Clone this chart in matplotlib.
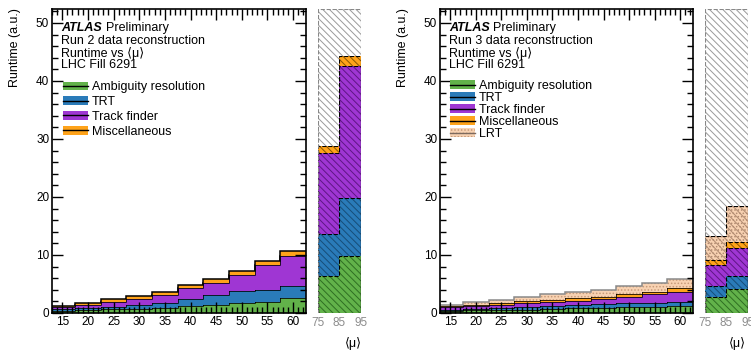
import numpy as np
import matplotlib.pyplot as plt
from matplotlib.patches import Patch
from matplotlib.lines import Line2D
from matplotlib.ticker import MultipleLocator

plt.rcParams['font.family'] = ['Liberation Sans', 'DejaVu Sans']
plt.rcParams['hatch.linewidth'] = 0.7

# bins in <mu>
mu_edges = np.arange(12.5, 63, 5)
side_edges = np.array([75, 85, 95])

labels = ["Ambiguity resolution", "TRT", "Track finder", "Miscellaneous", "LRT"]

# Run 2 (left), per-component runtime
run2_ambi = [0.4, 0.5, 0.65, 0.75, 0.9, 1.15, 1.4, 1.65, 1.95, 2.5]
run2_trt = [0.25, 0.3, 0.4, 0.6, 0.8, 1.3, 1.7, 2.15, 2.05, 2.15]
run2_track = [0.35, 0.55, 0.8, 1.05, 1.4, 1.9, 2.0, 2.75, 4.2, 5.15]
run2_misc = [0.25, 0.4, 0.5, 0.6, 0.55, 0.55, 0.7, 0.75, 0.75, 0.95]
# extrapolation, <mu> 75-95
run2_side_ambi = [6.3, 9.8]
run2_side_trt = [7.4, 10.0]
run2_side_track = [13.8, 22.8]
run2_side_misc = [1.3, 1.7]

# Run 3 (right)
run3_ambi = [0.4, 0.45, 0.5, 0.6, 0.7, 0.8, 0.9, 1.0, 1.1, 1.2]
run3_trt = [0.2, 0.3, 0.4, 0.5, 0.55, 0.6, 0.65, 0.65, 0.7, 0.75]
run3_track = [0.35, 0.45, 0.55, 0.65, 0.7, 0.75, 0.85, 1.15, 1.4, 1.75]
run3_misc = [0.2, 0.25, 0.25, 0.3, 0.35, 0.4, 0.4, 0.4, 0.5, 0.55]
run3_lrt = [0.3, 0.4, 0.55, 0.75, 0.9, 1.0, 1.15, 1.45, 1.5, 1.65]
run3_side_ambi = [2.8, 4.1]
run3_side_trt = [1.85, 2.2]
run3_side_track = [3.65, 4.85]
run3_side_misc = [0.8, 1.15]
run3_side_lrt = [4.1, 6.15]

colors = ['#62b24a', '#2a7bb9', '#9f36d3', '#ffa31a', '#f8d2b2']
hatch_cols = ['#2f6e22', '#164d78', '#5e1684', '#8a5500', '#c79a78']
YMAX = 52.4
DIAG = '\\' * 5

fig = plt.figure(figsize=(7.51, 3.51), dpi=100)


def setup_main(ax):
    ax.set_xlim(13, 62.5)
    ax.set_ylim(0, YMAX)
    ax.xaxis.set_major_locator(MultipleLocator(5))
    ax.xaxis.set_minor_locator(MultipleLocator(1))
    ax.yaxis.set_major_locator(MultipleLocator(10))
    ax.yaxis.set_minor_locator(MultipleLocator(2))
    ax.tick_params(which='both', direction='in', top=True, right=True,
                   labelsize=8.5, pad=2, width=1)
    ax.tick_params(which='major', length=8)
    ax.tick_params(which='minor', length=4)
    for s in ax.spines.values():
        s.set_linewidth(1.2)


def draw_stack(ax, layers, cols, outline_cols):
    bottom = np.zeros(len(mu_edges) - 1)
    for vals, c, oc in zip(layers, cols, outline_cols):
        top = bottom + np.array(vals)
        ax.stairs(top, mu_edges, baseline=bottom, fill=True, color=c)
        if c == colors[4]:
            ax.stairs(top, mu_edges, baseline=bottom, fill=True, facecolor='none',
                      edgecolor=hatch_cols[4], hatch='.....', linewidth=0)
        ax.stairs(top, mu_edges, baseline=None, color=oc, linewidth=1.1)
        bottom = top


def draw_side(ax, layers, cols, hcols):
    bottom = np.zeros(2)
    for vals, c, hc in zip(layers, cols, hcols):
        top = bottom + np.array(vals)
        ax.stairs(top, side_edges, baseline=bottom, fill=True, color=c)
        if c == colors[4]:
            ax.stairs(top, side_edges, baseline=bottom, fill=True, facecolor='none',
                      edgecolor=hc, hatch='.....', linewidth=0)
        ax.stairs(top, side_edges, baseline=bottom, fill=True, facecolor='none',
                  edgecolor=hc, hatch=DIAG, linewidth=0)
        ax.stairs(top, side_edges, baseline=0, color='black', linestyle='--',
                  linewidth=0.8)
        bottom = top
    full = np.full(2, YMAX)
    ax.stairs(full, side_edges, baseline=bottom, fill=True, facecolor='white',
              edgecolor='#9a9a9a', hatch=DIAG, linewidth=0)
    ax.stairs(full, side_edges, baseline=0, color='#888888', linestyle='--',
              linewidth=0.8)
    ax.set_xlim(75, 95)
    ax.set_ylim(0, YMAX)
    ax.set_xticks([75, 85, 95])
    ax.set_yticks([])
    ax.tick_params(axis='x', length=0, pad=3, labelsize=8.5, labelcolor='#8c8c8c')
    for s in ax.spines.values():
        s.set_visible(False)


def header(ax, run, xpre):
    ys = [0.936, 0.896, 0.855, 0.815]
    ax.text(0.035, ys[0], 'ATLAS', weight='bold', style='italic', fontsize=9,
            va='center', transform=ax.transAxes)
    ax.text(xpre, ys[0], 'Preliminary', fontsize=9, va='center', transform=ax.transAxes)
    ax.text(0.035, ys[1], 'Run %d data reconstruction' % run, fontsize=9,
            va='center', transform=ax.transAxes)
    ax.text(0.035, ys[2], 'Runtime vs \u27e8\u03bc\u27e9', fontsize=9,
            va='center', transform=ax.transAxes)
    ax.text(0.035, ys[3], 'LHC Fill 6291', fontsize=9, va='center',
            transform=ax.transAxes)


# ---- left: Run 2
ax1 = fig.add_axes([0.0692, 0.1083, 0.3382, 0.866])
side1 = fig.add_axes([0.4234, 0.1083, 0.0573, 0.866])
setup_main(ax1)
draw_stack(ax1, [run2_ambi, run2_trt, run2_track, run2_misc], colors[:4], ['black'] * 4)
draw_side(side1, [run2_side_ambi, run2_side_trt, run2_side_track, run2_side_misc],
          colors[:4], hatch_cols[:4])
header(ax1, 2, 0.212)
h1 = [(Patch(facecolor=c), Line2D([], [], color='black', lw=1)) for c in colors[:4]]
ax1.legend(h1, labels[:4], loc='upper left', bbox_to_anchor=(0.043, 0.762),
           frameon=False, fontsize=9, handlelength=2.0, handleheight=0.7,
           handletextpad=0.3, borderpad=0, borderaxespad=0, labelspacing=0.22)

# ---- right: Run 3
ax2 = fig.add_axes([0.5859, 0.1083, 0.3369, 0.866])
side2 = fig.add_axes([0.9387, 0.1083, 0.0573, 0.866])
setup_main(ax2)
draw_stack(ax2, [run3_ambi, run3_trt, run3_track, run3_misc, run3_lrt], colors,
           ['black'] * 4 + ['#8a8a8a'])
draw_side(side2, [run3_side_ambi, run3_side_trt, run3_side_track, run3_side_misc,
                  run3_side_lrt], colors, hatch_cols[:4] + ['#b08a70'])
header(ax2, 3, 0.21)
h2 = [(Patch(facecolor=c), Line2D([], [], color='black', lw=1)) for c in colors[:4]]
h2.append((Patch(facecolor=colors[4], edgecolor=hatch_cols[4], hatch='.....', lw=0),
           Line2D([], [], color='#7d6a5e', lw=1)))
ax2.legend(h2, labels, loc='upper left', bbox_to_anchor=(0.04, 0.766),
           frameon=False, fontsize=9, handlelength=2.0, handleheight=0.7,
           handletextpad=0.3, borderpad=0, borderaxespad=0, labelspacing=0.0)

# axis titles
for xl, xr in [(15, 353), (403, 737)]:
    fig.text(xl / 751, 1 - 8 / 351, 'Runtime (a.u.)', rotation=90, ha='center',
             va='top', fontsize=9)
    fig.text(xr / 751, 1 - 343 / 351, '\u27e8\u03bc\u27e9', ha='center',
             va='center', fontsize=9)

fig.savefig('out.png', dpi=100)
